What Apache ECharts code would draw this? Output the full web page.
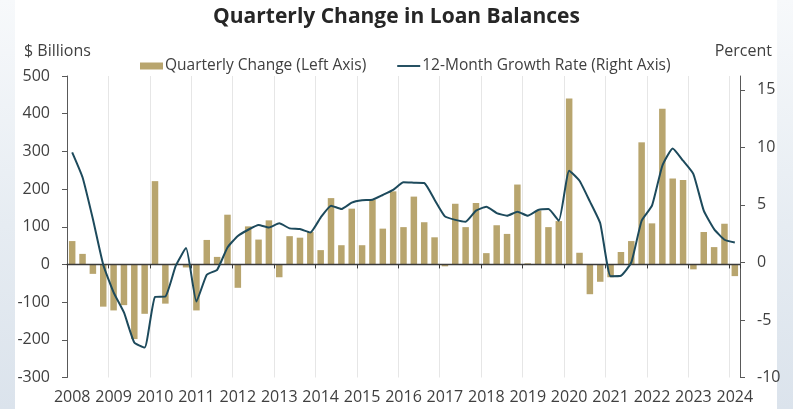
<!DOCTYPE html>
<html>
<head>
<meta charset="utf-8">
<script src="https://cdn.jsdelivr.net/npm/echarts@6/dist/echarts.min.js"></script>
<style>
  html, body { margin: 0; padding: 0; }
  body {
    width: 793px; height: 409px; overflow: hidden; position: relative;
    background: linear-gradient(to bottom, #f7f9fb 0%, #e6ecf2 55%, #dbe3ec 100%);
  }
  #panel { position: absolute; left: 15px; top: 0; width: 762px; height: 409px; background: #ffffff; }
  #chart { position: absolute; left: 0; top: 0; width: 793px; height: 409px; }
</style>
</head>
<body>
<div id="panel"></div>
<div id="chart"></div>
<script>
// Years shown on the category axis; each year holds four quarters (2024 only Q1)
const years = ['2008','2009','2010','2011','2012','2013','2014','2015','2016',
               '2017','2018','2019','2020','2021','2022','2023','2024'];

// Quarterly change in loan balances, $ billions (2008 Q1 - 2024 Q1)
const quarterlyChange = [
   62,   28,  -25, -112,   // 2008
 -122, -108, -198, -131,   // 2009
  221, -104,    2,   -8,   // 2010
 -122,   65,   20,  132,   // 2011
  -62,  101,   66,  117,   // 2012
  -34,   75,   71,   86,   // 2013
   38,  176,   51,  148,   // 2014
   51,  172,   95,  194,   // 2015
   99,  180,  112,   72,   // 2016
   -5,  161,   99,  163,   // 2017
   30,  104,   81,  212,   // 2018
    3,  143,   99,  115,   // 2019
  440,   31,  -79,  -46,   // 2020
  -34,   33,   62,  324,   // 2021
  109,  413,  228,  224,   // 2022
  -13,   86,   46,  108,   // 2023
  -31                      // 2024
];

// 12-month growth rate, percent
const growthRate = [
  9.57,  7.4,  3.77, -0.2,
 -2.6,  -4.35, -6.96, -7.4,
 -3.0,  -2.96, -0.3,  1.25,
 -3.4,  -1.07, -0.64, 1.3,
  2.3,   2.84,  3.25, 3.04,
  3.4,   2.96,  2.9,  2.6,
  3.9,   4.93,  4.64, 5.2,
  5.4,   5.45,  5.86, 6.3,
  6.96,  6.93,  6.9,  5.45,
  4.0,   3.7,   3.54, 4.5,
  4.84,  4.29,  4.06, 4.4,
  4.06,  4.55,  4.64, 3.62,
  7.97,  7.1,   5.3,  3.4,
 -1.2,  -1.16,  0.0,  3.62,
  4.93,  8.4,   9.9,  8.84,
  7.68,  4.5,   2.9,  1.97,
  1.74
];

const leftTicks = [-300, -200, -100, 0, 100, 200, 300, 400, 500];
const rightTicks = [-10, -5, 0, 5, 10, 15];

// Quarter categories built from the year list
const quarters = [];
years.forEach(function (y, i) {
  const n = (i === years.length - 1) ? 1 : 4;
  for (let q = 1; q <= n; q++) quarters.push(y + ' Q' + q);
});

const FONT = '"Open Sans", "Noto Sans", sans-serif';
const TXT = '#404040';
const AX = '#595959';
const BAR = '#b8a56e';
const LINE = '#1d4a5c';

const chart = echarts.init(document.getElementById('chart'), null, { renderer: 'canvas' });

chart.setOption({
  backgroundColor: 'transparent',
  animation: false,
  textStyle: { fontFamily: FONT },
  title: [
    { text: 'Quarterly Change in Loan Balances', left: 'center', top: 2,
      textStyle: { fontFamily: FONT, fontSize: 21, fontWeight: 'bold', color: '#262626' } },
    { text: '$ Billions', left: 19, top: 38,
      textStyle: { fontFamily: FONT, fontSize: 16, fontWeight: 'normal', color: TXT } },
    { text: 'Percent', right: 16, top: 38,
      textStyle: { fontFamily: FONT, fontSize: 16, fontWeight: 'normal', color: TXT } }
  ],
  legend: {
    left: 135, top: 53,
    itemGap: 31,
    itemWidth: 23, itemHeight: 7,
    symbolKeepAspect: true,
    textStyle: { fontFamily: FONT, fontSize: 15.5, color: TXT, padding: [0, 0, 0, -3] },
    data: [
      { name: 'Quarterly Change (Left Axis)', icon: 'rect' },
      { name: '12-Month Growth Rate (Right Axis)', icon: 'path://M0 0H24V2H0Z',
        itemStyle: { color: LINE } }
    ]
  },
  grid: { left: 67, right: 53, top: 76, bottom: 31.5, containLabel: false },
  xAxis: [
    {
      type: 'category', data: quarters, position: 'bottom', boundaryGap: true,
      axisLine: { onZero: true, lineStyle: { color: '#3a3a3a', width: 1.3 } },
      axisTick: { show: true, interval: 3, length: 4, lineStyle: { color: '#3a3a3a' } },
      axisLabel: { show: false },
      splitLine: { show: false },
      z: 5
    },
    {
      type: 'category', data: quarters, position: 'bottom', boundaryGap: true,
      axisLine: { show: false, onZero: false },
      axisTick: { show: false },
      axisLabel: {
        interval: 3, margin: 12, fontFamily: FONT, fontSize: 16, color: TXT,
        formatter: function (v) { return v.slice(0, 4); }
      },
      splitLine: { show: true, interval: 3, lineStyle: { color: '#e6e6e6', width: 1 } }
    }
  ],
  yAxis: [
    {
      type: 'value', min: -300, max: 500, interval: 100, position: 'left',
      axisLine: { show: true, lineStyle: { color: AX } },
      axisTick: { show: true, inside: false, length: 5, lineStyle: { color: AX },
                  customValues: leftTicks },
      axisLabel: { margin: 17, fontFamily: FONT, fontSize: 16, color: TXT,
                   customValues: leftTicks },
      splitLine: { show: false }
    },
    {
      type: 'value', min: -10, max: 16.2, position: 'right',
      axisLine: { show: true, onZero: false, lineStyle: { color: AX } },
      axisTick: { show: true, inside: false, length: 5, lineStyle: { color: AX },
                  customValues: rightTicks },
      axisLabel: { margin: 17, fontFamily: FONT, fontSize: 16, color: TXT,
                   customValues: rightTicks },
      splitLine: { show: false }
    }
  ],
  series: [
    {
      name: 'Quarterly Change (Left Axis)', type: 'bar',
      xAxisIndex: 0, yAxisIndex: 0,
      data: quarterlyChange, barWidth: 6.5,
      itemStyle: { color: BAR }
    },
    {
      name: '12-Month Growth Rate (Right Axis)', type: 'line',
      xAxisIndex: 0, yAxisIndex: 1,
      data: growthRate, symbol: 'none', smooth: 0.15,
      lineStyle: { color: LINE, width: 2 },
      itemStyle: { color: LINE },
      z: 10
    }
  ]
});
</script>
</body>
</html>
